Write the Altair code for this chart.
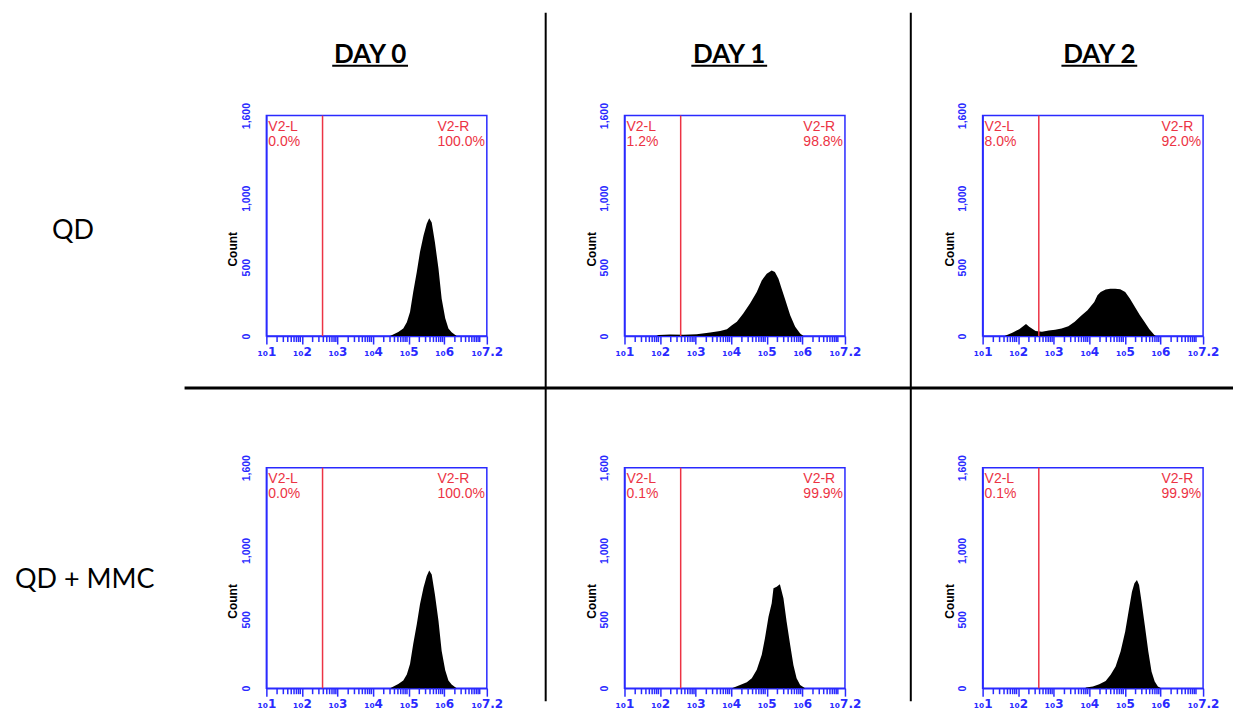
import math
import altair as alt
import pandas as pd

# ---------------- data ----------------
DAYS = ["DAY 0", "DAY 1", "DAY 2"]
CONDITIONS = ["QD", "QD + MMC"]
GATE_NAMES = ["V2-L", "V2-R"]
LEFT_PCT = [["0.0%", "1.2%", "8.0%"], ["0.0%", "0.1%", "0.1%"]]
RIGHT_PCT = [["100.0%", "98.8%", "92.0%"], ["100.0%", "99.9%", "99.9%"]]
GATE_LOG = 2.58          # gate position, log10 units
Y_TICKS = [0, 500, 1000, 1600]
X_MAJOR = [1, 2, 3, 4, 5, 6, 7.2]
X_LABELS = ["₁₀1", "₁₀2", "₁₀3", "₁₀4", "₁₀5", "₁₀6", "₁₀7.2"]

# histogram outlines (x in log10 units, y = count)
QD_D0_X = [4.48, 4.71, 4.85, 4.95, 5.04, 5.13, 5.23, 5.32, 5.42, 5.51, 5.58, 5.65, 5.74, 5.84, 5.93, 6.03, 6.12, 6.21, 6.35]
QD_D0_Y = [0, 30, 55, 100, 175, 320, 465, 610, 730, 815, 855, 825, 680, 490, 270, 130, 55, 27, 0]
QD_D1_X = [1.90, 1.96, 2.28, 2.66, 3.03, 3.41, 3.69, 3.88, 4.02, 4.16, 4.34, 4.53, 4.72, 4.86, 5.00, 5.14, 5.23, 5.33, 5.42, 5.51, 5.66, 5.80, 5.94, 6.03]
QD_D1_Y = [0, 7, 12, 10, 14, 26, 36, 50, 79, 103, 163, 236, 320, 404, 452, 476, 464, 416, 344, 272, 151, 67, 19, 0]
QD_D2_X = [1.62, 1.85, 2.03, 2.22, 2.31, 2.49, 2.67, 2.86, 3.04, 3.22, 3.41, 3.59, 3.77, 3.95, 4.14, 4.23, 4.32, 4.46, 4.59, 4.73, 4.87, 5.01, 5.14, 5.28, 5.42, 5.55, 5.69, 5.83, 5.87]
QD_D2_Y = [0, 26, 50, 87, 67, 36, 31, 41, 46, 55, 72, 104, 147, 188, 248, 296, 320, 337, 344, 344, 340, 320, 272, 212, 152, 104, 50, 7, 0]
MMC_D0_X = [4.48, 4.71, 4.85, 4.95, 5.04, 5.13, 5.23, 5.32, 5.42, 5.51, 5.58, 5.65, 5.74, 5.84, 5.93, 6.03, 6.12, 6.21, 6.35]
MMC_D0_Y = [0, 30, 55, 100, 175, 320, 465, 610, 730, 815, 855, 825, 680, 490, 270, 130, 55, 27, 0]
MMC_D1_X = [4.02, 4.25, 4.44, 4.58, 4.72, 4.86, 4.95, 5.05, 5.14, 5.19, 5.28, 5.37, 5.47, 5.56, 5.66, 5.75, 5.84, 5.94, 6.08]
MMC_D1_Y = [0, 24, 43, 72, 133, 242, 362, 519, 616, 725, 737, 754, 652, 483, 314, 169, 72, 24, 0]
MMC_D2_X = [3.88, 3.91, 4.10, 4.28, 4.46, 4.60, 4.74, 4.88, 5.01, 5.12, 5.20, 5.27, 5.34, 5.40, 5.47, 5.56, 5.66, 5.75, 5.84, 5.93, 6.02]
MMC_D2_Y = [0, 5, 12, 29, 53, 97, 157, 266, 411, 580, 700, 761, 785, 749, 628, 459, 266, 121, 48, 12, 0]

HIST = [[(QD_D0_X, QD_D0_Y), (QD_D1_X, QD_D1_Y), (QD_D2_X, QD_D2_Y)],
        [(MMC_D0_X, MMC_D0_Y), (MMC_D1_X, MMC_D1_Y), (MMC_D2_X, MMC_D2_Y)]]

# ---------------- style / layout ----------------
W, H = 221, 221
COL_SP, ROW_SP = 138, 132
BLUE = "#2a2aff"
RED = "#ec3344"
HEADER_DX = [104, 105, 117]

# minor tick positions of the log axis (2..9 within each decade, plus 10^7)
X_MINOR = [d + math.log10(m) for d in range(1, 7) for m in range(2, 10)] + [7.0]

label_expr = "''"
for v, lab in zip(reversed(X_MAJOR), reversed(X_LABELS)):
    label_expr = f"(datum.value == {v} ? '{lab}' : {label_expr})"

CW = {".": 0.278, "%": 0.889, "-": 0.333}


def arial_w(s, size):
    return sum(CW.get(ch, 0.556) for ch in s) * size


xscale = alt.Scale(domain=[1, 7.2], nice=False, zero=False)
yscale = alt.Scale(domain=[0, 1600], nice=False)
xaxis = alt.Axis(values=X_MAJOR, tickCount=50, labelExpr=label_expr, title=None, grid=False,
                 domainColor=BLUE, domainWidth=1.5, tickColor=BLUE, tickWidth=1.5,
                 tickSize=8, labelColor=BLUE, labelFont="DejaVu Sans", labelFontSize=12,
                 labelFontWeight="bold", labelPadding=2, labelFlush=False, labelOverlap=False)
yaxis = alt.Axis(values=Y_TICKS, tickCount=50, labelExpr="format(datum.value, ',d')",
                 title=None, grid=False, ticks=False, domainColor=BLUE, domainWidth=1.5,
                 labelAngle=-90, labelColor=BLUE, labelFont="Liberation Sans",
                 labelFontSize=10.5, labelFontWeight="bold", labelPadding=15,
                 labelFlush=False, labelOverlap=False)

ONE = pd.DataFrame({"a": [0]})


def deco_rule(x1, x2, y1, y2, width, color="black"):
    return alt.Chart(ONE).mark_rule(color=color, strokeWidth=width).encode(
        x=alt.value(x1), x2=alt.value(x2), y=alt.value(y1), y2=alt.value(y2))


def deco_text(txt, x, y, **kw):
    return alt.Chart(pd.DataFrame({"t": [txt]})).mark_text(**kw).encode(
        x=alt.value(x), y=alt.value(y), text="t:N")


def panel(r, c):
    xs, ys = HIST[r][c]
    df = pd.DataFrame({"x": xs, "y": ys})
    area = alt.Chart(df).mark_area(color="black", interpolate="linear").encode(
        x=alt.X("x:Q", scale=xscale, axis=xaxis),
        y=alt.Y("y:Q", scale=yscale, axis=yaxis))
    minor = alt.Chart(pd.DataFrame({"m": X_MINOR})).mark_rule(
        color=BLUE, strokeWidth=1.5).encode(
        x=alt.X("m:Q", scale=xscale), y=alt.value(H), y2=alt.value(H + 6))
    gate = alt.Chart(pd.DataFrame({"g": [GATE_LOG]})).mark_rule(
        color=RED, strokeWidth=1.5).encode(x=alt.X("g:Q", scale=xscale))
    tkw = dict(align="left", baseline="alphabetic", font="Liberation Sans",
               fontSize=14, color=RED)
    rx = W - 2 - arial_w(RIGHT_PCT[r][c], 14)
    layers = [area, minor, gate,
              deco_text(GATE_NAMES[0], 2, 15.5, **tkw),
              deco_text(LEFT_PCT[r][c], 2, 30, **tkw),
              deco_text(GATE_NAMES[1], rx, 15.5, **tkw),
              deco_text(RIGHT_PCT[r][c], rx, 30, **tkw),
              deco_text("Count", -33, 134, angle=270, align="center", baseline="middle",
                        font="Liberation Sans", fontSize=12, fontWeight="bold", color="black")]
    if r == 0:
        hx = HEADER_DX[c]
        layers.append(deco_text(DAYS[c], hx, -53, align="center", baseline="alphabetic",
                                font="Lato", fontSize=26, fontWeight="bold", color="black"))
        layers.append(deco_rule(hx - 38, hx + 38, -50, -50, 2))
    if c == 0:
        if r == 0:
            layers.append(deco_text(CONDITIONS[0], -215, 124, align="left", baseline="alphabetic",
                                    font="Lato", fontSize=27, color="black"))
            layers.append(deco_rule(-82, 969, 273, 273, 3))
            layers.append(deco_rule(-257, -256, -105, -105, 1, color="white"))
        else:
            layers.append(deco_text(CONDITIONS[1], -252, 121, align="left", baseline="alphabetic",
                                    font="Lato", fontSize=27, color="black"))
    if r == 0 and c == 1:
        layers.append(deco_rule(-79, -79, -103, 587, 2))
    if r == 0 and c == 2:
        layers.append(deco_rule(-72, -72, -103, 587, 2))
    return alt.layer(*layers).properties(width=W, height=H)


panels = [panel(r, c) for r in range(2) for c in range(3)]
chart = alt.concat(*panels, columns=3, spacing={"row": ROW_SP, "column": COL_SP},
                   bounds="flush", padding=0).configure_view(
    stroke=BLUE, strokeWidth=1.5)

chart.save("out.html", embed_options={"renderer": "svg", "actions": False})
